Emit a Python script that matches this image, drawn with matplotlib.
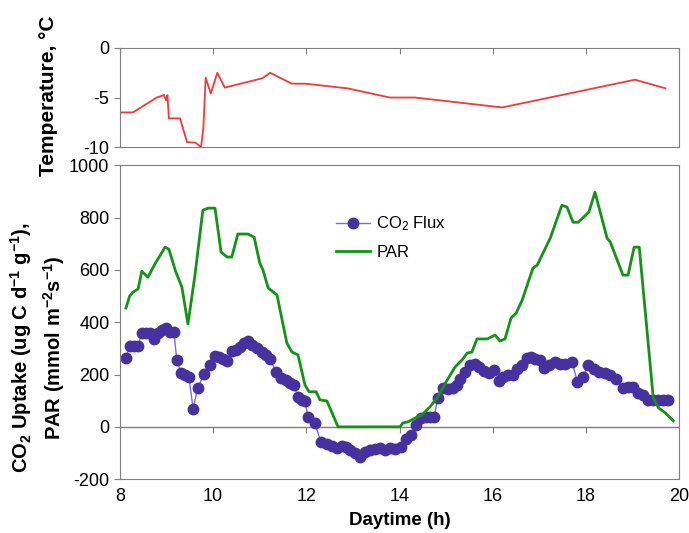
import matplotlib.pyplot as plt

plt.rcParams['font.family'] = ['Liberation Sans', 'DejaVu Sans']
plt.rcParams['mathtext.default'] = 'regular'
plt.rcParams['axes.unicode_minus'] = False

# temperature record (h, degC)
temp_h = [8.0, 8.28, 8.79, 8.95, 8.99, 9.02, 9.05, 9.29, 9.44, 9.62, 9.74, 9.79,
          9.84, 9.95, 10.09, 10.25, 11.06, 11.22, 11.69, 11.97, 12.88, 13.79,
          14.33, 16.2, 19.05, 19.7]
temp_c = [-6.5, -6.5, -5.0, -4.75, -5.3, -4.75, -7.1, -7.1, -9.5, -9.55, -10.0, -8.1,
          -3.0, -4.6, -2.5, -4.0, -3.05, -2.5, -3.6, -3.6, -4.07, -5.0,
          -5.0, -6.0, -3.2, -4.07]

# CO2 flux (h, ug C d-1 g-1)
flux_h = [8.13, 8.21, 8.30, 8.39, 8.47, 8.56, 8.64, 8.73, 8.82, 8.90, 8.99, 9.07,
          9.16, 9.22, 9.31, 9.39, 9.48, 9.57, 9.67, 9.80, 9.93, 10.04, 10.12, 10.21,
          10.30, 10.40, 10.49, 10.58, 10.66, 10.75, 10.83, 10.94, 11.05, 11.13, 11.22,
          11.35, 11.45, 11.56, 11.65, 11.73, 11.82, 11.91, 11.97, 12.03, 12.18, 12.31,
          12.44, 12.55, 12.66, 12.76, 12.85, 12.94, 13.04, 13.15, 13.26, 13.36, 13.47,
          13.58, 13.69, 13.79, 13.90, 14.03, 14.14, 14.24, 14.35, 14.46, 14.57, 14.65,
          14.74, 14.82, 14.93, 15.04, 15.15, 15.23, 15.30, 15.40, 15.51, 15.62, 15.70,
          15.81, 15.92, 16.03, 16.13, 16.22, 16.33, 16.43, 16.52, 16.63, 16.73, 16.82,
          16.91, 17.01, 17.10, 17.21, 17.33, 17.44, 17.55, 17.70, 17.81, 17.94, 18.04,
          18.17, 18.28, 18.41, 18.52, 18.64, 18.79, 18.90, 19.01, 19.12, 19.22, 19.33,
          19.44, 19.55, 19.65, 19.76]
flux = [263, 309, 309, 309, 359, 359, 357, 336, 359, 370, 378, 363,
        361, 256, 206, 198, 191, 69, 149, 202, 237, 271, 267, 260,
        252, 290, 294, 305, 321, 328, 313, 302, 286, 275, 260,
        210, 187, 179, 168, 160, 115, 103, 100, 38, 15, -57,
        -65, -72, -80, -72, -76, -88, -99, -115, -95, -88, -84,
        -80, -88, -80, -84, -76, -46, -30, 8, 34, 38, 38,
        38, 111, 149, 145, 149, 160, 183, 210, 237, 240, 229,
        214, 206, 218, 176, 191, 198, 198, 221, 237, 262, 267,
        260, 255, 225, 237, 248, 240, 240, 248, 172, 191, 237,
        221, 210, 206, 198, 183, 149, 153, 153, 130, 122, 103,
        103, 103, 103, 103]

# PAR (h, mmol m-2 s-1)
par_h = [8.13, 8.21, 8.28, 8.39, 8.47, 8.60, 8.75, 8.97, 9.05, 9.20, 9.33, 9.46,
         9.61, 9.78, 9.89, 10.04, 10.17, 10.30, 10.40, 10.53, 10.75, 10.88, 11.00,
         11.07, 11.18, 11.37, 11.58, 11.69, 11.82, 11.97, 12.06, 12.21, 12.29, 12.44,
         12.68, 14.01, 14.07, 14.18, 14.29, 14.48, 14.65, 14.82, 15.02, 15.19, 15.34,
         15.45, 15.55, 15.66, 15.88, 16.05, 16.15, 16.26, 16.39, 16.50, 16.63, 16.86,
         16.95, 17.23, 17.48, 17.59, 17.72, 17.83, 18.06, 18.19, 18.45, 18.52, 18.79,
         18.90, 19.03, 19.14, 19.44, 19.55, 19.70, 19.87]
par = [454, 500, 515, 527, 595, 572, 622, 687, 679, 592, 534, 393,
       580, 828, 836, 836, 668, 649, 649, 737, 737, 725, 626,
       599, 531, 504, 321, 286, 275, 160, 134, 134, 103, 99,
       0, 0, 15, 19, 30, 46, 76, 115, 179, 229, 256,
       282, 286, 336, 336, 351, 328, 336, 416, 435, 485, 607,
       618, 721, 847, 840, 782, 782, 821, 897, 721, 706, 580,
       580, 687, 687, 111, 73, 53, 23]

hours = [8, 10, 12, 14, 16, 18, 20]

fig = plt.figure(figsize=(6.89, 5.33), dpi=100)
ax_t = fig.add_axes([0.174, 0.724, 0.812, 0.186])
ax = fig.add_axes([0.174, 0.101, 0.812, 0.589])

frame = '#7f7f7f'
for a in (ax_t, ax):
    for s in a.spines.values():
        s.set_color(frame)
    a.tick_params(axis='y', colors=frame, labelcolor='black', labelsize=13,
                  direction='out', length=4)
    a.set_xlim(8, 20)

# temperature panel
ax_t.plot(temp_h, temp_c, color='#ee3b3b', lw=1.3)
ax_t.set_ylim(-10, 0)
ax_t.set_yticks([-10, -5, 0])
ax_t.set_xticks(hours)
ax_t.xaxis.tick_top()
ax_t.tick_params(axis='x', direction='in', length=4, colors=frame, labeltop=False)
ax_t.set_ylabel('Temperature, °C', fontsize=15, fontweight='bold')
ax_t.yaxis.set_label_coords(-0.11, 0.52)

# flux / PAR panel
ax.plot(flux_h, flux, color='#7b70cc', lw=1, marker='o', ms=7.5,
        mfc='#47309f', mec='#47309f', label='CO$_2$ Flux')
ax.plot(par_h, par, color='#16911a', lw=2, label='PAR')
ax.set_ylim(-200, 1000)
ax.set_yticks(range(-200, 1001, 200))
ax.set_xticks(hours)
ax.tick_params(axis='x', length=0, labelsize=13, pad=6)

ax.axhline(0, color=frame, lw=1, zorder=0)
zero_axis = ax.secondary_xaxis(1 / 6)
zero_axis.set_xticks(hours[1:-1])
zero_axis.tick_params(axis='x', direction='out', length=4, colors=frame, labelbottom=False)
zero_axis.spines['bottom'].set_visible(False)

ax.set_xlabel('Daytime (h)', fontsize=13.5, fontweight='bold')
ax.xaxis.set_label_coords(0.5, -0.105)
ax.set_ylabel('CO$_2$ Uptake (ug C d$^{-1}$ g$^{-1}$),\nPAR (mmol m$^{-2}$s$^{-1}$)',
              fontsize=14.5, fontweight='bold', linespacing=1.35)
ax.yaxis.set_label_coords(-0.095, 0.42)

ax.legend(loc='upper left', bbox_to_anchor=(0.36, 0.89), frameon=False,
          fontsize=12, handlelength=2.0, labelspacing=0.7, handletextpad=0.4)

fig.savefig('out.png', dpi=100)
